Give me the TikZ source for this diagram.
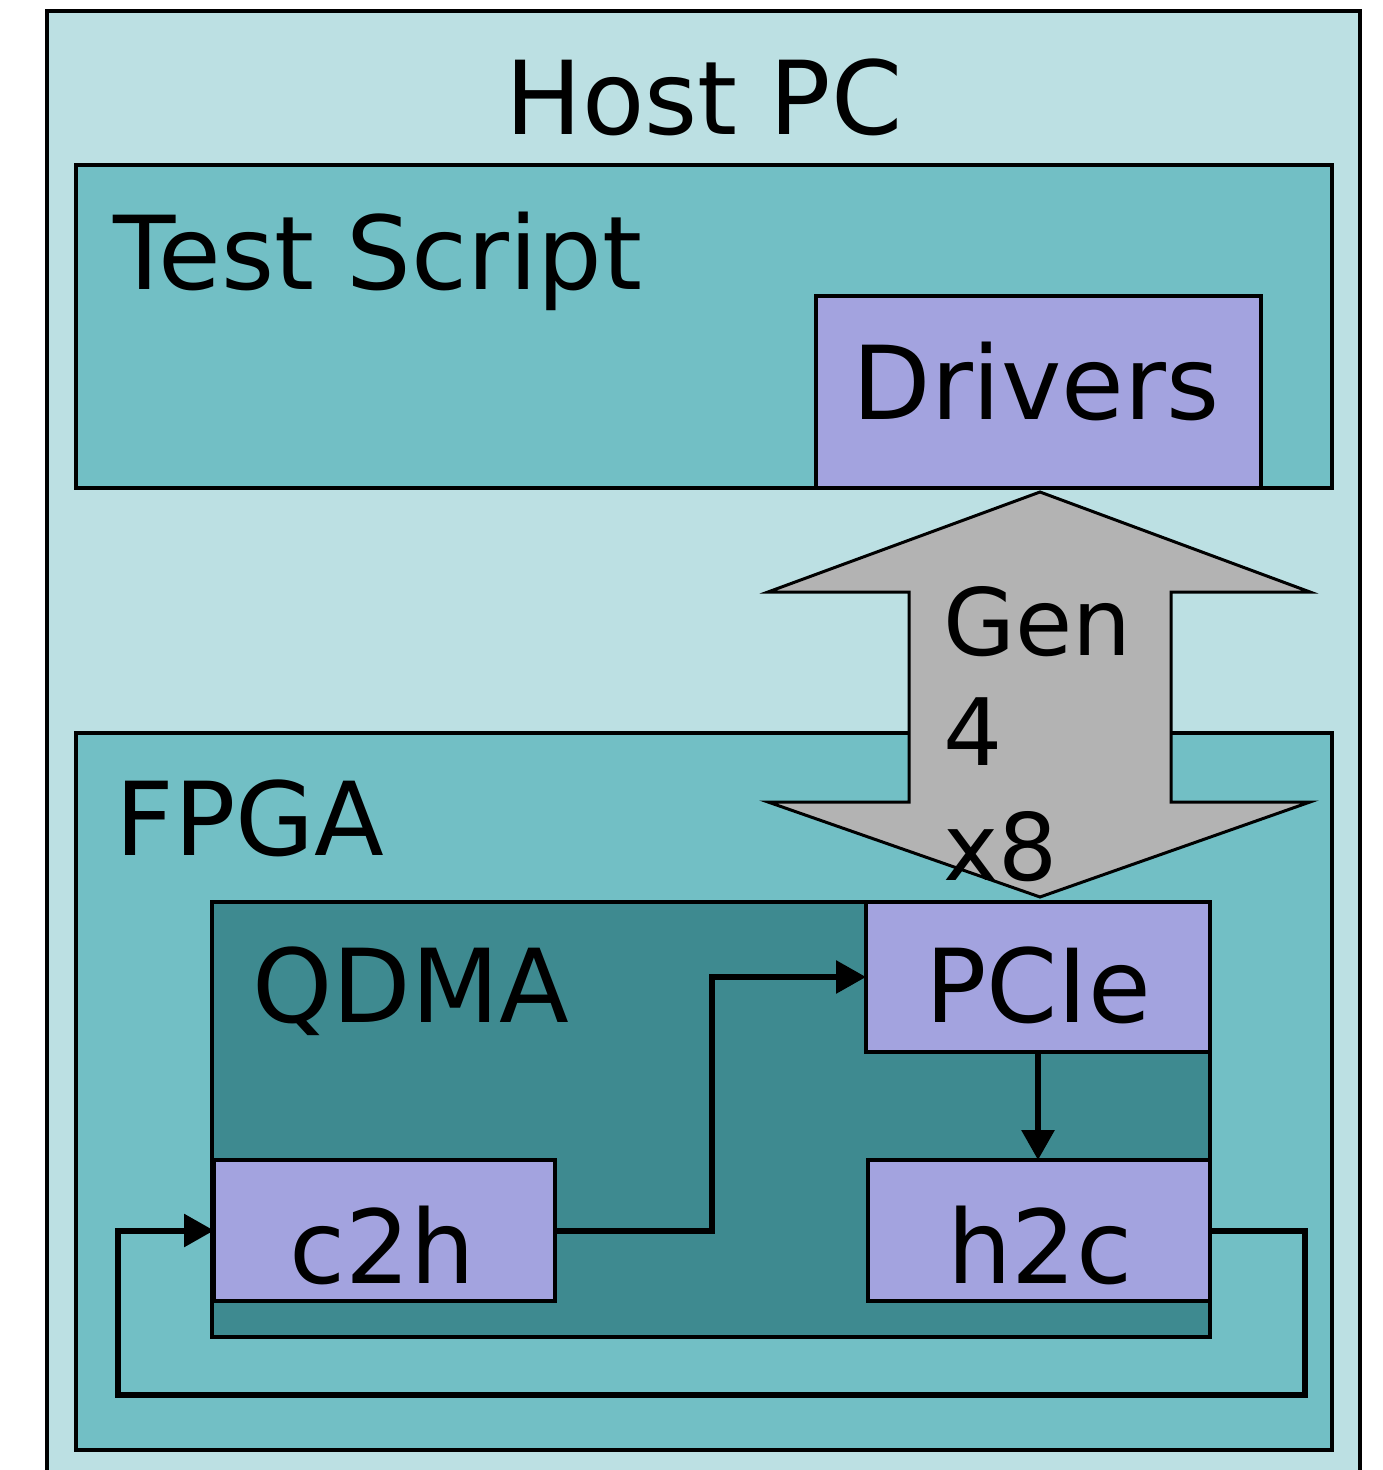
\documentclass[tikz,border=0pt]{standalone}
\usepackage{fontspec}
\setmainfont{DejaVu Sans}
\usetikzlibrary{arrows.meta,positioning}
\definecolor{hostc}{HTML}{BCE0E3}
\definecolor{midc}{HTML}{72BFC5}
\definecolor{qdmac}{HTML}{3E8A90}
\definecolor{purp}{HTML}{A3A3DF}
\definecolor{arrg}{HTML}{B3B3B3}
\tikzset{
  box/.style={draw=black, line width=2.1pt, inner sep=0pt, outer sep=0pt, rectangle},
  bigtxt/.style={inner sep=0pt, anchor=base, font=\fontsize{51}{60}\selectfont},
  gentxt/.style={inner sep=0pt, anchor=base west, font=\fontsize{46.5}{55}\selectfont},
  conn/.style={line width=3pt, -{Triangle[length=15pt,width=16pt]}}
}
\begin{document}
\begin{tikzpicture}[x=0.5pt,y=-0.5pt]
\useasboundingbox (0,0) rectangle (1382,1470);
% boxes
\node[box, fill=hostc, minimum width=656.5pt, minimum height=731.5pt] (host) at (703.5,742.5) {};
\node[box, fill=midc, minimum width=628pt, minimum height=161.5pt] (test) at (704,326.5) {};
\node[box, fill=purp, minimum width=222.5pt, minimum height=96pt] (drv) at (1038.5,392) {};
\node[box, fill=midc, minimum width=628pt, minimum height=358.5pt] (fpga) at (704,1091.5) {};
\node[box, fill=qdmac, minimum width=499pt, minimum height=217.5pt] (qdma) at (711,1119.5) {};
\node[box, fill=purp, minimum width=172pt, minimum height=75pt] (pcie) at (1038,977) {};
\node[box, fill=purp, minimum width=170.5pt, minimum height=70.5pt] (c2h) at (384.5,1230.5) {};
\node[box, fill=purp, minimum width=171pt, minimum height=70.5pt] (h2c) at (1039,1230.5) {};
% labels
\node[bigtxt] (thost) at (704,135) {Host PC};
\node[bigtxt, anchor=base west] (ttest) at (113,290) {Test Script};
\node[bigtxt] (tdrv) at (1036,420) {Drivers};
\node[bigtxt, anchor=base west] (tfpga) at (115,855) {FPGA};
\node[bigtxt, anchor=base west] (tqdma) at (252,1022) {QDMA};
\node[bigtxt] (tpcie) at (1038,1022) {PCIe};
\node[bigtxt] (tc2h) at (382,1283) {c2h};
\node[bigtxt] (th2c) at (1040,1283) {h2c};
% double arrow
\draw[fill=arrg, line width=1.5pt, line join=miter] (1040,492) -- (1310,592) -- (1171,592) -- (1171,802) -- (1310,802) -- (1040,897) -- (768,802) -- (909,802) -- (909,592) -- (768,592) -- cycle;
\node[gentxt] (tgen) at (943,655) {Gen};
\node[gentxt] (tfour) at (943,765) {4};
\node[gentxt] (tx8) at (943,880) {x8};
% connectors
\coordinate (loopR) at (1305,1395);
\coordinate (loopL) at (118,1395);
\draw[conn] (c2h.east) -- ++(157,0) |- (pcie.west);
\draw[conn] (pcie.south) -- (pcie.south |- h2c.north);
\draw[conn, line join=miter] (h2c.east) -| (loopR) -- (loopL) |- (c2h.west);
\end{tikzpicture}
\end{document}
